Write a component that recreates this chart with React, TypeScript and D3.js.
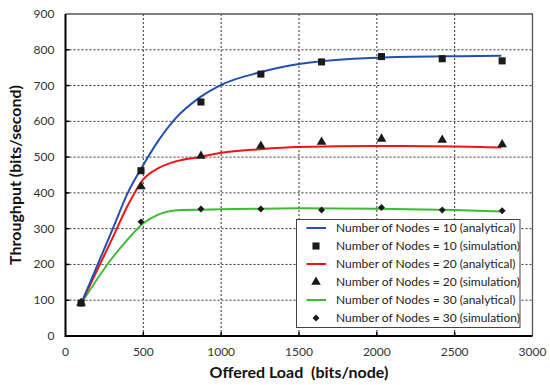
import React, { useEffect, useRef } from 'react';
import * as d3 from 'd3';

// simulation points
const simLoad = [100, 485, 870, 1255, 1645, 2030, 2420, 2805];
const sim10 = [92, 462, 654, 732, 766, 781, 775, 769];
const sim20 = [92, 418, 503, 531, 542, 551, 548, 535];
const sim30 = [92, 319, 355, 355, 352, 359, 352, 350];

// analytical curves
const anaLoad = [100, 300, 400, 500, 600, 700, 870, 1000, 1250, 1500, 2000, 2500, 2800];
const ana10 = [90, 296, 400, 478, 548, 605, 669, 702, 737, 760, 778, 782, 783];
const ana20 = [90, 272, 365, 438, 470, 487, 501, 512, 522, 528, 531, 530, 527];
const ana30 = [90, 218, 270, 315, 340, 351, 353, 354, 356, 357, 356, 352, 348];

const xTicks = [0, 500, 1000, 1500, 2000, 2500, 3000];
const yTicks = [0, 100, 200, 300, 400, 500, 600, 700, 800, 900];

const legendLabels = [
  'Number of Nodes = 10 (analytical)',
  'Number of Nodes = 10 (simulation)',
  'Number of Nodes = 20 (analytical)',
  'Number of Nodes = 20 (simulation)',
  'Number of Nodes = 30 (analytical)',
  'Number of Nodes = 30 (simulation)',
];

const BLUE = '#2350b0';
const RED = '#f01515';
const GREEN = '#3cbb35';
const FONT = 'Lato, "Open Sans", sans-serif';

const App = () => {
  const ref = useRef<SVGSVGElement>(null);

  useEffect(() => {
    const svg = d3.select(ref.current);
    svg.selectAll('*').remove();

    const left = 65.5, right = 532.5, top = 14, bottom = 336;
    const x = d3.scaleLinear().domain([0, 3000]).range([left, right]);
    const y = d3.scaleLinear().domain([0, 900]).range([bottom, top]);

    svg.append('rect').attr('width', 550).attr('height', 385).attr('fill', '#fff');

    // grid
    const grid = svg.append('g').attr('stroke', '#333').attr('stroke-width', 1).attr('stroke-dasharray', '2,2');
    xTicks.slice(1, -1).forEach((t) => {
      grid.append('line').attr('x1', x(t)).attr('x2', x(t)).attr('y1', top).attr('y2', bottom);
    });
    yTicks.slice(1, -1).forEach((t) => {
      grid.append('line').attr('x1', left).attr('x2', right).attr('y1', y(t)).attr('y2', y(t));
    });

    // frame: gray top/right, black left/bottom
    svg.append('path')
      .attr('d', `M${left},${top}H${right}V${bottom}`)
      .attr('fill', 'none').attr('stroke', '#555').attr('stroke-width', 1.3);
    svg.append('path')
      .attr('d', `M${left},${top}V${bottom}H${right}`)
      .attr('fill', 'none').attr('stroke', '#000').attr('stroke-width', 2);

    // tick marks (inward)
    xTicks.slice(1, -1).forEach((t) => {
      svg.append('line').attr('x1', x(t)).attr('x2', x(t)).attr('y1', bottom).attr('y2', bottom - 4)
        .attr('stroke', '#000').attr('stroke-width', 1.5);
    });
    yTicks.slice(1, -1).forEach((t) => {
      svg.append('line').attr('x1', left).attr('x2', left + 4).attr('y1', y(t)).attr('y2', y(t))
        .attr('stroke', '#000').attr('stroke-width', 1.5);
    });

    // tick labels
    svg.append('g').selectAll('text').data(xTicks).enter().append('text')
      .attr('x', (d) => x(d)).attr('y', bottom + 20)
      .attr('text-anchor', 'middle')
      .style('font-family', FONT).style('font-size', '12px').attr('fill', '#333')
      .text((d) => d);
    svg.append('g').selectAll('text').data(yTicks).enter().append('text')
      .attr('x', left - 11).attr('y', (d) => y(d) + 4)
      .attr('text-anchor', 'end')
      .style('font-family', FONT).style('font-size', '12px').attr('fill', '#333')
      .text((d) => d);

    // axis titles
    svg.append('text')
      .attr('x', (left + right) / 2).attr('y', 378)
      .attr('text-anchor', 'middle')
      .style('font-family', FONT).style('font-size', '16px').style('font-weight', 'bold')
      .attr('fill', '#111').style('white-space', 'pre')
      .text('Offered Load  (bits/node)');
    svg.append('text')
      .attr('transform', `translate(21,${(top + bottom) / 2}) rotate(-90)`)
      .attr('text-anchor', 'middle')
      .style('font-family', FONT).style('font-size', '16px').style('font-weight', 'bold')
      .attr('fill', '#111')
      .text('Throughput (bits/second)');

    // analytical lines
    const line = d3.line<number>()
      .x((_, i) => x(anaLoad[i]))
      .y((d) => y(d))
      .curve(d3.curveMonotoneX);
    [[ana30, GREEN], [ana20, RED], [ana10, BLUE]].forEach(([vals, c]) => {
      svg.append('path').attr('d', line(vals as number[]))
        .attr('fill', 'none').attr('stroke', c as string).attr('stroke-width', 2);
    });

    // simulation markers
    const square = d3.symbol().type(d3.symbolSquare).size(50);
    const tri = d3.symbol().type(d3.symbolTriangle).size(40);
    const diamond = d3.symbol().type(d3.symbolSquare).size(24);
    const mk = (vals: number[], gen: any, rot = 0) => {
      svg.append('g').selectAll('path').data(vals).enter().append('path')
        .attr('d', gen)
        .attr('transform', (d, i) => `translate(${x(simLoad[i])},${y(d)}) rotate(${rot})`)
        .attr('fill', '#1a1a1a');
    };
    mk(sim10, square);
    mk(sim20, tri);
    mk(sim30, diamond, 45);

    // legend
    const lg = svg.append('g');
    lg.append('rect').attr('x', 296.5).attr('y', 219.5).attr('width', 223.5).attr('height', 108)
      .attr('fill', '#fff').attr('stroke', '#444').attr('stroke-width', 1);
    const types = ['line', square, 'line', tri, 'line', diamond];
    const colors = [BLUE, '', RED, '', GREEN, ''];
    legendLabels.forEach((lab, i) => {
      const cy = 228 + i * 18;
      if (types[i] === 'line') {
        lg.append('line').attr('x1', 306.5).attr('x2', 326).attr('y1', cy).attr('y2', cy)
          .attr('stroke', colors[i]).attr('stroke-width', 2);
      } else {
        lg.append('path').attr('d', (types[i] as any)())
          .attr('transform', `translate(316,${cy}) rotate(${i === 5 ? 45 : 0})`)
          .attr('fill', '#1a1a1a');
      }
      lg.append('text').attr('x', 336).attr('y', cy + 4)
        .style('font-family', FONT).style('font-size', '12px').attr('fill', '#222')
        .text(lab);
    });
  }, []);

  return (
    <svg
      ref={ref}
      width={550}
      height={385}
      style={{ position: 'fixed', left: 0, top: 0, display: 'block' }}
    />
  );
};

export default App;
